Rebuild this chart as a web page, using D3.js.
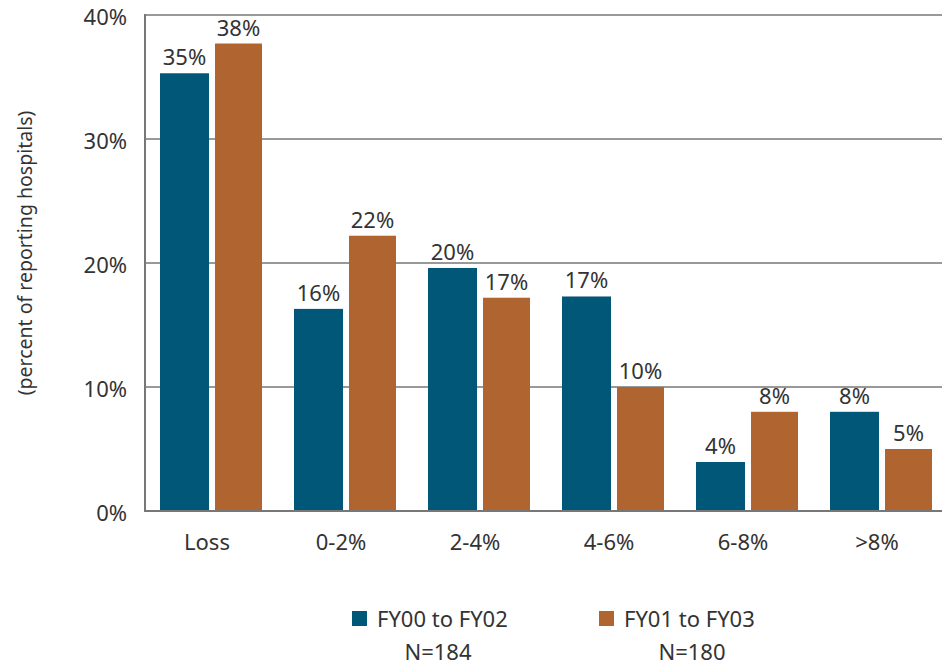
<!DOCTYPE html>
<html><head><meta charset="utf-8">
<script src="https://cdn.jsdelivr.net/npm/d3@7"></script>
<style>body{margin:0;background:#fff}svg{display:block}text{font-family:"Noto Sans",sans-serif;fill:#333}</style>
</head><body>
<svg id="c" width="942" height="666"></svg>
<script>
const categories = ["Loss","0-2%","2-4%","4-6%","6-8%",">8%"];
const seriesNames = ["FY00 to FY02","FY01 to FY03"];
const seriesN = ["N=184","N=180"];
const fy00 = [35.3,16.3,19.6,17.3,3.95,8.0];
const fy01 = [37.7,22.2,17.2,10.0,8.0,5.0];
const labels00 = ["35%","16%","20%","17%","4%","8%"];
const labels01 = ["38%","22%","17%","10%","8%","5%"];
const yTicks = [0,10,20,30,40];
const colors = ["#005778","#b06430"];

const svg = d3.select("#c");
const pL = 145, pR = 949, pT = 15, pB = 511;
const x = d3.scaleBand().domain(categories).range([pL,pR]).paddingInner(0).paddingOuter(0);
const y = d3.scaleLinear().domain([0,40]).range([pB,pT]);
const fs = 22;

// gridlines
svg.append("g").selectAll("line").data(yTicks.filter(t=>t>0&&t<40)).join("line")
  .attr("x1",pL).attr("x2",942).attr("y1",d=>y(d)).attr("y2",d=>y(d))
  .attr("stroke","#333").attr("stroke-width",1);
// top border
svg.append("line").attr("x1",pL).attr("x2",942).attr("y1",y(40)).attr("y2",y(40)).attr("stroke","#999").attr("stroke-width",2);

const series = [fy00, fy01];
const lbls = [labels00, labels01];
series.forEach((vals,si)=>{
  const g = svg.append("g");
  g.selectAll("rect").data(categories).join("rect")
    .attr("x",(d,i)=>x(d)+x.bandwidth()/2+(si===0?-52:3))
    .attr("width",si===0?49:47)
    .attr("y",(d,i)=>y(vals[i]))
    .attr("height",(d,i)=>y(0)-y(vals[i]))
    .attr("fill",colors[si]);
  g.selectAll("text").data(categories).join("text")
    .attr("x",(d,i)=>x(d)+x.bandwidth()/2+(si===0?-52+24.5:3+23.5))
    .attr("y",(d,i)=>y(vals[i])-8)
    .attr("text-anchor","middle").attr("font-size",fs)
    .text((d,i)=>lbls[si][i]);
});

// left axis & baseline
svg.append("line").attr("x1",pL).attr("x2",pL).attr("y1",pT-1).attr("y2",pB+1).attr("stroke","#777").attr("stroke-width",2);
svg.append("line").attr("x1",pL-1).attr("x2",942).attr("y1",pB).attr("y2",pB).attr("stroke","#777").attr("stroke-width",2);

// y tick labels
svg.append("g").selectAll("text").data(yTicks).join("text")
  .attr("x",127).attr("y",d=>y(d)+10).attr("text-anchor","end").attr("font-size",fs)
  .text(d=>d+"%");
// x labels
svg.append("g").selectAll("text").data(categories).join("text")
  .attr("x",d=>x(d)+x.bandwidth()/2-5).attr("y",550).attr("text-anchor","middle").attr("font-size",fs)
  .text(d=>d);
// y title
svg.append("text").attr("transform","translate(32,253) rotate(-90)").attr("text-anchor","middle")
  .attr("font-size",19.5).text("(percent of reporting hospitals)");

// legend
const lx=[352,599], nx=[438,692];
seriesNames.forEach((n,i)=>{
  svg.append("rect").attr("x",lx[i]).attr("y",611).attr("width",15).attr("height",15).attr("fill",colors[i]);
  svg.append("text").attr("x",lx[i]+25).attr("y",627).attr("font-size",fs).text(n);
  svg.append("text").attr("x",nx[i]).attr("y",660).attr("text-anchor","middle").attr("font-size",fs).text(seriesN[i]);
});
</script>
</body></html>
